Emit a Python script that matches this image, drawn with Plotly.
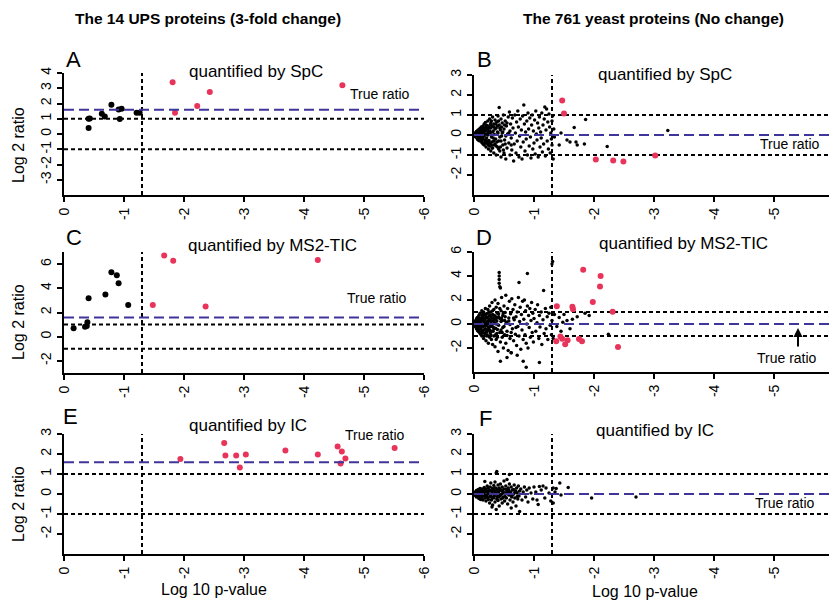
import math
import plotly.graph_objects as go

# ---------------- data ----------------
x_ticks = [0, 1, 2, 3, 4, 5, 6]
x_ticktext = ["0", "-1", "-2", "-3", "-4", "-5", "-6"]
p_cut = 1.3            # -log10(0.05)
fold_cut = 1.0
ups_true = math.log2(3)
yeast_true = 0.0

# Panel A (UPS, SpC)
ups_spc_ns_x = [0.41, 0.43, 0.41, 0.63, 0.68, 0.79, 0.91, 0.96, 0.93, 1.21, 1.26]
ups_spc_ns_y = [1.00, 1.02, 0.40, 1.32, 1.15, 1.92, 1.61, 1.66, 0.99, 1.39, 1.39]
ups_spc_sig_x = [1.81, 1.85, 2.22, 2.43, 4.64]
ups_spc_sig_y = [3.40, 1.39, 1.83, 2.76, 3.20]

# Panel C (UPS, MS2-TIC)
ups_tic_ns_x = [0.16, 0.35, 0.38, 0.39, 0.41, 0.69, 0.79, 0.88, 0.91, 1.07]
ups_tic_ns_y = [0.69, 0.83, 0.88, 1.19, 3.18, 3.48, 5.33, 5.08, 4.42, 2.62]
ups_tic_sig_x = [1.48, 1.67, 1.82, 2.36, 4.23]
ups_tic_sig_y = [2.62, 6.71, 6.27, 2.49, 6.33]

# Panel E (UPS, IC)
ups_ic_sig_x = [1.94, 2.69, 2.67, 2.87, 3.03, 2.93, 3.69, 4.23, 4.56, 4.63, 4.69, 4.61, 5.51]
ups_ic_sig_y = [1.75, 1.93, 2.55, 1.93, 1.97, 1.33, 2.17, 1.98, 2.38, 2.12, 1.78, 1.52, 2.30]

# Panel B (yeast, SpC)
yeast_spc_ns = [
    (0.01,0.0),(0.02,0.08),(0.02,-0.07),(0.03,0.12),(0.03,-0.1),(0.04,0.02),(0.04,0.18),(0.05,-0.15),
    (0.05,0.06),(0.06,0.22),(0.06,-0.22),(0.07,0.1),(0.07,-0.04),(0.08,0.28),(0.08,-0.27),(0.09,0.15),
    (0.09,-0.12),(0.10,0.33),(0.10,-0.3),(0.11,0.02),(0.11,0.2),(0.12,-0.2),(0.12,0.4),(0.13,-0.38),
    (0.13,0.1),(0.14,0.3),(0.14,-0.08),(0.15,0.45),(0.15,-0.45),(0.16,0.18),(0.16,-0.25),(0.17,0.55),
    (0.17,-0.5),(0.18,0.05),(0.18,0.35),(0.19,-0.35),(0.19,0.62),(0.20,-0.6),(0.20,0.25),(0.21,-0.15),
    (0.22,0.48),(0.22,-0.42),(0.23,0.7),(0.23,0.0),(0.24,-0.7),(0.24,0.15),(0.25,0.38),(0.25,-0.28),
    (0.26,0.8),(0.26,-0.55),(0.27,0.1),(0.28,0.6),(0.28,-0.8),(0.29,-0.1),(0.30,0.45),(0.30,-0.35),
    (0.31,0.9),(0.31,-0.65),(0.32,0.2),(0.33,-0.9),(0.33,0.55),(0.34,0.02),(0.35,0.75),(0.35,-0.45),
    (0.36,-0.2),(0.37,0.35),(0.37,-1.0),(0.38,0.65),(0.39,-0.6),(0.40,0.1),(0.40,0.95),(0.41,-0.3),
    (0.42,1.38),(0.42,0.5),(0.43,-0.8),(0.44,0.25),(0.45,-1.1),(0.45,0.8),(0.46,-0.05),(0.47,0.6),
    (0.48,-0.5),(0.49,1.0),(0.50,-0.9),(0.50,0.3),(0.51,-0.25),(0.52,0.7),(0.53,-1.2),(0.54,0.45),
    (0.55,-0.65),(0.56,0.05),(0.57,0.9),(0.58,-0.4),(0.59,1.15),(0.60,-1.0),(0.60,0.2),
    (0.61,0.55),(0.62,-0.15),(0.63,-0.75),(0.64,0.85),(0.65,0.35),(0.66,-1.3),(0.67,-0.45),(0.68,1.0),
    (0.69,0.1),(0.70,-0.9),(0.71,0.65),(0.72,-0.3),(0.73,1.2),(0.74,0.4),(0.75,-1.1),(0.76,-0.05),
    (0.77,0.8),(0.78,-0.6),(0.79,0.25),(0.80,-1.2),(0.81,0.95),(0.82,-0.35),(0.83,1.5),(0.84,0.55),
    (0.85,-0.8),(0.86,0.15),(0.87,-0.2),(0.88,0.7),(0.89,-1.0),(0.90,1.1),(0.91,0.3),(0.92,-0.55),
    (0.93,0.85),(0.94,-0.1),(0.95,-1.15),(0.96,0.5),(0.97,1.0),(0.98,-0.7),(0.99,0.2),
    (1.00,-0.4),(1.01,0.75),(1.02,-0.95),(1.03,1.2),(1.04,0.05),(1.05,-0.25),(1.06,0.6),(1.07,-1.1),
    (1.08,0.35),(1.09,0.9),(1.10,-0.6),(1.11,0.15),(1.12,-0.15),(1.13,1.1),(1.14,-0.85),(1.15,0.5),
    (1.16,-0.45),(1.17,0.8),(1.18,1.4),(1.19,-1.05),(1.20,0.25),(1.21,1.3),(1.22,-0.3),(1.23,0.65),
    (1.24,-0.7),(1.25,1.05),(1.26,0.4),(1.27,-0.9),(1.28,0.1),(1.29,-0.2),(1.30,0.7),(1.30,-0.5),
    (1.31,0.95),(1.32,-1.2),(1.33,0.3),(1.34,-0.1),
    (1.42,-0.5),(1.67,0.38),(1.86,0.78),(1.84,-0.45),(1.70,-0.35),(1.60,-0.35),(1.72,-0.5),(2.22,-0.58),
    (3.23,0.22),(1.45,0.1),(1.55,-0.25),
    (0.03,0.03),(0.05,-0.02),(0.06,0.1),(0.08,-0.12),(0.09,0.05),(0.10,0.15),(0.11,-0.12),(0.12,0.25),
    (0.13,-0.25),(0.14,0.05),(0.15,-0.15),(0.16,0.32),(0.17,-0.05),(0.18,-0.4),(0.19,0.2),(0.20,0.45),
    (0.21,0.05),(0.22,-0.3),(0.23,0.3),(0.24,-0.5),(0.26,0.2),(0.27,-0.4),(0.28,0.35),(0.29,0.7),
    (0.30,-0.65),(0.32,-0.15),(0.33,0.4),(0.34,-0.5),(0.36,0.55),(0.38,-0.35),(0.39,0.15),(0.41,0.7),
    (0.43,-0.1),(0.44,-0.6),(0.46,0.4),(0.48,0.15),(0.52,-0.45),(0.55,0.6),(0.58,0.1),(0.62,-0.5),
    (0.07,0.18),(0.09,-0.2),(0.11,0.3),(0.13,0.2),(0.15,0.05),(0.17,0.25),(0.19,-0.25),(0.21,0.35),
    (0.23,-0.35),(0.25,0.1),(0.27,0.5),(0.29,-0.5),(0.31,0.15),(0.33,-0.3),(0.35,0.3),(0.37,-0.55),
    (0.39,0.45),(0.41,-0.7),(0.43,0.35),(0.45,-0.3),(0.47,0.1),(0.49,-0.75),(0.51,0.5),(0.53,-0.05),
]
yeast_spc_sig_x = [1.47, 1.50, 2.03, 2.32, 2.49, 3.02]
yeast_spc_sig_y = [1.73, 1.07, -1.22, -1.27, -1.33, -1.02]

# Panel D (yeast, MS2-TIC)
yeast_tic_ns = [
    (0.01,0.05),(0.02,-0.2),(0.02,0.25),(0.03,0.0),(0.04,0.4),(0.04,-0.4),(0.05,0.15),(0.05,-0.1),
    (0.06,0.55),(0.06,-0.55),(0.07,0.3),(0.07,-0.3),(0.08,0.0),(0.08,0.7),(0.09,-0.7),(0.09,0.2),
    (0.10,-0.2),(0.10,0.9),(0.11,-0.85),(0.11,0.45),(0.12,-0.45),(0.12,0.05),(0.13,1.1),(0.13,-1.0),
    (0.14,0.6),(0.14,-0.6),(0.15,0.25),(0.15,-0.25),(0.16,1.0),(0.16,-1.2),(0.17,0.0),(0.17,0.75),
    (0.18,-0.8),(0.18,0.4),(0.19,-0.4),(0.19,1.3),(0.20,-1.4),(0.20,0.1),(0.21,0.85),(0.21,-0.1),
    (0.22,-0.9),(0.22,0.5),(0.23,1.2),(0.23,-0.55),(0.24,0.2),(0.24,-1.6),(0.25,0.65),(0.25,-0.3),
    (0.26,1.5),(0.26,-1.1),(0.27,0.35),(0.27,-0.7),(0.28,0.0),(0.28,1.0),(0.29,-1.3),(0.29,0.55),
    (0.30,-0.2),(0.30,1.8),
    (0.31,-1.7),(0.31,0.8),(0.32,0.3),(0.32,-0.6),(0.33,1.2),(0.33,-1.0),(0.34,0.1),(0.35,2.0),
    (0.35,-1.9),(0.36,0.6),(0.36,-0.35),(0.37,1.4),(0.37,-1.3),(0.38,0.25),(0.38,-0.8),(0.39,0.9),
    (0.40,-2.3),(0.40,1.7),(0.41,-0.1),(0.42,4.3),(0.42,4.0),(0.42,3.7),(0.42,3.4),(0.43,3.1),
    (0.44,3.0),(0.43,0.45),(0.44,-1.5),(0.45,1.1),(0.45,-0.5),(0.46,2.2),(0.47,-1.1),(0.47,0.3),
    (0.48,0.7),(0.49,-2.0),(0.50,1.5),(0.50,-0.2),(0.51,-0.9),(0.52,0.95),(0.53,2.4),(0.53,-1.6),
    (0.54,0.15),(0.55,-0.6),(0.56,1.3),(0.57,-2.2),(0.58,0.5),(0.59,1.9),(0.60,-1.2),(0.60,-0.05),
    (0.61,0.85),(0.62,-2.4),(0.63,2.1),(0.64,-0.4),(0.65,1.2),(0.66,-1.4),(0.67,0.35),(0.68,1.6),
    (0.69,-0.85),(0.70,0.6),(0.75,3.45),
    (0.71,-1.8),(0.72,1.0),(0.73,-0.2),(0.74,2.2),(0.75,-1.0),(0.76,0.2),(0.77,1.4),(0.78,-2.1),
    (0.79,0.8),(0.80,-0.5),(0.81,1.9),(0.82,-1.3),(0.83,0.4),(0.84,2.0),(0.85,-0.9),(0.86,1.1),
    (0.87,-1.6),(0.88,0.0),(0.89,1.5),(0.90,-2.0),(0.91,0.7),(0.92,-0.3),(0.93,1.3),(0.94,-1.1),
    (0.95,0.3),(0.96,1.8),(0.97,-0.7),(0.98,0.9),(0.99,-1.5),(1.00,0.45),(1.02,1.2),(1.03,-0.6),
    (1.05,0.1),(1.06,1.6),(1.08,-1.2),(1.09,0.7),(1.10,-0.25),(1.12,1.0),(1.13,-1.7),(1.15,0.35),
    (1.16,2.8),(1.17,-0.8),(1.19,1.3),(1.20,-0.4),(1.22,0.6),(1.23,-1.3),(1.25,0.9),(1.27,-0.1),
    (1.28,1.4),(1.29,-0.9),(1.30,0.3),(1.31,5.2),(1.30,5.0),(1.32,-1.2),(1.34,0.8),
    (0.89,4.2),(0.87,-3.6),(0.82,-3.1),(1.09,-3.2),(0.44,-3.1),(0.62,-2.4),(0.72,-2.6),(0.55,-2.8),
    (1.42,0.55),(1.50,0.8),(1.55,0.3),(1.64,0.4),(1.72,0.6),(1.85,0.9),(1.92,0.7),(1.45,-0.6),
    (1.60,-0.4),(2.24,-0.86),(1.38,-0.2),(1.48,0.15),
    (0.03,0.2),(0.04,-0.15),(0.05,0.35),(0.06,-0.35),(0.07,0.1),(0.08,-0.5),(0.09,0.45),(0.10,0.0),
    (0.11,0.25),(0.12,-0.7),(0.13,0.35),(0.14,-0.1),(0.15,0.8),(0.16,0.45),(0.17,-0.5),(0.18,0.1),
    (0.19,-0.15),(0.20,0.6),(0.21,-0.65),(0.22,0.2),(0.23,0.9),(0.24,-0.3),(0.25,0.35),(0.26,-0.5),
    (0.27,0.75),(0.28,-0.9),(0.29,0.2),(0.31,0.5),(0.32,-0.25),(0.34,0.7),(0.36,-0.9),(0.38,0.5),
    (0.39,-0.45),(0.41,0.85),(0.43,-0.7),(0.46,0.5),(0.48,-0.3),(0.52,0.6),(0.55,-0.95),(0.58,0.25),
    (0.62,-0.7),(0.66,0.5),(0.70,-0.3),
    (0.05,0.5),(0.07,-0.6),(0.09,0.0),(0.11,-0.3),(0.13,0.7),(0.15,-0.75),(0.17,0.35),(0.19,0.8),
    (0.21,-1.0),(0.23,0.0),(0.25,1.0),(0.27,-0.2),(0.29,-0.6),(0.31,1.1),(0.33,-0.4),(0.35,0.4),
    (0.37,0.0),(0.39,-1.1),(0.41,0.6),(0.43,1.3),(0.45,0.2),(0.47,-0.7),(0.49,0.9),(0.51,0.3),
]
yeast_tic_sig_x = [1.82, 2.11, 2.10, 1.98, 2.31, 1.38, 1.64, 1.65, 1.37, 1.44, 1.47, 1.52, 1.56, 1.75, 1.80, 2.40]
yeast_tic_sig_y = [4.52, 3.99, 3.13, 1.83, 1.02, 1.47, 1.44, 1.22, -1.44, -1.04, -1.23, -1.68, -1.35, -1.25, -1.43, -1.91]

# Panel F (yeast, IC)
yeast_ic_ns = [
    (0.01,0.0),(0.02,0.1),(0.02,-0.08),(0.03,0.05),(0.04,-0.15),(0.04,0.18),(0.05,0.0),(0.06,0.12),
    (0.06,-0.12),(0.07,0.22),(0.07,-0.05),(0.08,0.05),(0.08,-0.22),(0.09,0.15),(0.10,-0.1),(0.10,0.28),
    (0.11,0.0),(0.11,-0.28),(0.12,0.1),(0.13,-0.18),(0.13,0.25),(0.14,0.02),(0.15,-0.3),(0.15,0.18),
    (0.16,-0.08),(0.17,0.32),(0.17,0.05),(0.18,-0.2),(0.18,0.63),(0.19,0.12),(0.20,-0.35),(0.20,0.25),
    (0.21,-0.05),(0.22,0.4),(0.22,-0.15),(0.23,0.08),(0.24,-0.28),(0.24,0.3),(0.25,0.0),(0.26,-0.45),
    (0.26,0.18),(0.27,0.35),(0.28,-0.1),(0.28,0.55),(0.29,-0.3),(0.30,0.1),(0.31,-0.55),(0.31,0.28),
    (0.32,0.0),(0.33,0.42),(0.33,-0.2),(0.34,0.15),(0.35,-0.4),(0.35,0.6),(0.36,0.05),(0.37,1.05),
    (0.38,1.13),(0.37,-0.78),(0.38,0.25),(0.39,-0.12),(0.40,0.45),(0.40,-0.32),(0.41,0.1),(0.42,-0.6),
    (0.42,0.3),(0.43,-0.05),(0.44,0.5),(0.45,-0.25),(0.45,0.2),(0.46,0.0),(0.47,-0.45),(0.47,0.35),
    (0.48,0.12),(0.49,-0.15),(0.50,0.65),(0.50,0.25),(0.51,-0.35),(0.52,0.05),(0.53,0.4),(0.54,-0.2),
    (0.55,0.15),(0.56,-0.5),(0.57,0.3),(0.58,-0.05),(0.59,0.97),(0.59,0.5),(0.60,-0.3),(0.61,0.1),
    (0.62,0.35),(0.63,-0.15),(0.64,0.2),(0.65,-0.4),(0.66,0.0),(0.67,0.45),(0.68,-0.2),(0.69,0.15),
    (0.70,-0.6),(0.71,0.3),(0.72,0.05),(0.73,-0.25),(0.74,0.4),(0.75,-0.1),(0.76,-0.87),(0.76,0.15),
    (0.78,0.25),(0.80,-0.3),(0.82,0.1),(0.84,0.35),(0.86,-0.15),(0.88,0.2),(0.90,-0.4),(0.92,0.3),
    (0.95,0.05),(0.98,-0.25),(1.00,0.35),(1.03,0.1),(1.05,-0.3),(1.07,-0.53),(1.09,0.38),(1.12,0.2),
    (1.15,0.4),(1.18,-0.2),(1.20,0.3),(1.25,0.05),(1.28,-0.35),(1.32,0.3),(1.32,-0.45),(1.35,0.1),
    (1.37,0.28),(1.43,0.55),(1.57,0.33),(1.45,-0.05),(1.96,-0.2),(2.70,-0.15),(0.30,-0.65),(0.55,0.72),
    (0.62,-0.7),
    (0.03,-0.03),(0.05,0.08),(0.06,-0.02),(0.09,-0.05),(0.12,-0.05),(0.14,0.15),(0.16,0.2),(0.19,-0.1),
    (0.21,0.15),(0.23,-0.2),(0.25,0.18),(0.27,-0.12),(0.29,0.15),(0.30,-0.18),(0.32,0.22),(0.34,-0.1),
    (0.36,0.3),(0.38,-0.25),(0.39,0.18),(0.41,-0.15),(0.43,0.22),(0.44,-0.08),(0.46,0.18),(0.48,-0.2),
    (0.50,0.05),(0.52,-0.12),(0.54,0.22),(0.56,0.08),(0.58,0.2),(0.60,0.02),(0.62,-0.1),(0.64,-0.05),
    (0.66,0.22),(0.68,0.08),(0.70,0.12),(0.72,-0.12),
]

# ---------------- styling helpers ----------------
OFF = 8                      # page body margin of the viewer
W, H = 837 - OFF, 602 - OFF  # figure size so that it fits the window
RED = "#E8345A"
BLUE = "#3F3499"
FONT = "Liberation Sans, Arial, sans-serif"

def px(x):
    return (x - OFF) / W

def py(y):
    return 1 - (y - OFF) / H

panels = {
    # name: (x_left, x_right, y_top, y_bottom, yrange, yticks)  -- window pixels
    "A": (64, 424, 73, 195, [-4, 4], [-3, -2, -1, 0, 1, 2, 3, 4]),
    "B": (474, 834, 75, 195, [-3, 3], [-2, -1, 0, 1, 2, 3]),
    "C": (64, 424, 252, 373, [-3, 7], [-2, 0, 2, 4, 6]),
    "D": (474, 834, 252, 372, [-4, 6], [-2, 0, 2, 4, 6]),
    "E": (64, 424, 434, 554, [-3, 3], [-2, -1, 0, 1, 2, 3]),
    "F": (474, 834, 434, 554, [-3, 3], [-2, -1, 0, 1, 2, 3]),
}
order = ["A", "B", "C", "D", "E", "F"]

fig = go.Figure()
layout = dict(
    template="none",
    width=W, height=H, autosize=False,
    margin=dict(l=0, r=0, t=0, b=0, pad=0, autoexpand=False),
    paper_bgcolor="white", plot_bgcolor="white", showlegend=False,
    font=dict(family=FONT, color="black"),
)
shapes = []
for i, name in enumerate(order):
    xl, xr, yt, yb, yr, yt_vals = panels[name]
    n = "" if i == 0 else str(i + 1)
    layout["xaxis" + n] = dict(
        domain=[px(xl), min(px(xr), 1.0)], range=[0, 6], anchor="y" + n, automargin=False,
        tickvals=x_ticks, ticktext=x_ticktext, tickangle=-90,
        ticks="outside", ticklen=5, tickwidth=2, tickcolor="black",
        showline=True, linewidth=2, linecolor="black",
        showgrid=False, zeroline=False, tickfont=dict(size=14, family=FONT),
    )
    layout["yaxis" + n] = dict(
        domain=[py(yb), py(yt)], range=yr, anchor="x" + n, automargin=False,
        tickvals=yt_vals, ticktext=[str(v) for v in yt_vals], tickangle=-90,
        ticks="outside", ticklen=5, tickwidth=2, tickcolor="black",
        showline=True, linewidth=2, linecolor="black",
        showgrid=False, zeroline=False, tickfont=dict(size=14, family=FONT),
    )
    xr_ = "x" + n
    yr_ = "y" + n
    true_val = ups_true if name in "ACE" else yeast_true
    for yv in (fold_cut, -fold_cut):
        shapes.append(dict(type="line", xref=xr_, yref=yr_, x0=0, x1=6, y0=yv, y1=yv,
                           line=dict(color="black", width=2, dash="4px,3px"), layer="below"))
    shapes.append(dict(type="line", xref=xr_, yref=yr_, x0=p_cut, x1=p_cut, y0=yr[0], y1=yr[1],
                       line=dict(color="black", width=2, dash="4px,3px"), layer="below"))
    shapes.append(dict(type="line", xref=xr_, yref=yr_, x0=0, x1=6, y0=true_val, y1=true_val,
                       line=dict(color=BLUE, width=2, dash="10px,5px"), layer="above"))

layout["shapes"] = shapes


def add_pts(x, y, axis_n, color, size):
    fig.add_trace(go.Scatter(
        x=x, y=y, mode="markers", xaxis="x" + axis_n, yaxis="y" + axis_n,
        marker=dict(color=color, size=size, line=dict(width=0)), cliponaxis=False,
    ))

# A
add_pts(ups_spc_ns_x, ups_spc_ns_y, "", "black", 6)
add_pts(ups_spc_sig_x, ups_spc_sig_y, "", RED, 6)
# B
add_pts([p[0] for p in yeast_spc_ns], [p[1] for p in yeast_spc_ns], "2", "black", 3.5)
add_pts(yeast_spc_sig_x, yeast_spc_sig_y, "2", RED, 6)
# C
add_pts(ups_tic_ns_x, ups_tic_ns_y, "3", "black", 6)
add_pts(ups_tic_sig_x, ups_tic_sig_y, "3", RED, 6)
# D
add_pts([p[0] for p in yeast_tic_ns], [p[1] for p in yeast_tic_ns], "4", "black", 3.5)
add_pts(yeast_tic_sig_x, yeast_tic_sig_y, "4", RED, 6)
# E
add_pts(ups_ic_sig_x, ups_ic_sig_y, "5", RED, 6)
# F
add_pts([p[0] for p in yeast_ic_ns], [p[1] for p in yeast_ic_ns], "6", "black", 3.5)

ann = []

def text(x, y, s, size, bold=False, xanchor="center", angle=0, family=FONT):
    ann.append(dict(
        x=px(x), y=py(y), xref="paper", yref="paper", text=("<b>%s</b>" % s) if bold else s,
        showarrow=False, xanchor=xanchor, yanchor="middle", textangle=angle,
        font=dict(size=size, family=family, color="black"),
    ))

text(208, 18, "The 14 UPS proteins (3-fold change)", 15.5, bold=True)
text(653, 18, "The 761 yeast proteins (No change)", 15.5, bold=True)

for letter, (lx, ly) in {"A": (73, 59), "B": (484, 59), "C": (74, 237),
                         "D": (484, 237), "E": (70, 416), "F": (485, 418)}.items():
    text(lx, ly, letter, 22)

text(256, 71, "quantified by SpC", 17)
text(665, 75, "quantified by SpC", 17)
text(272, 245, "quantified by MS2-TIC", 17)
text(683, 244, "quantified by MS2-TIC", 17)
text(248, 425, "quantified by IC", 17)
text(655, 430, "quantified by IC", 17)

text(348, 94, "True ratio", 14, xanchor="left")
text(758, 144, "True ratio", 14, xanchor="left")
text(345, 298, "True ratio", 14, xanchor="left")
text(755, 358, "True ratio", 14, xanchor="left")
text(343, 435, "True ratio", 14, xanchor="left")
text(753, 503, "True ratio", 14, xanchor="left")

for yc in (145, 322, 504):
    text(18, yc, "Log 2 ratio", 16, angle=-90)
text(214, 589, "Log 10 p-value", 16)
text(645, 591, "Log 10 p-value", 16)

# arrow in panel D pointing at the true ratio line
ann.append(dict(
    x=5.4, y=yeast_true, xref="x4", yref="y4", ax=0, ay=24, axref="pixel", ayref="pixel",
    text="", showarrow=True, arrowhead=2, arrowsize=0.9, arrowwidth=2, arrowcolor="black",
    standoff=4,
))

layout["annotations"] = ann
fig.update_layout(**layout)
fig.write_html("out.html")
